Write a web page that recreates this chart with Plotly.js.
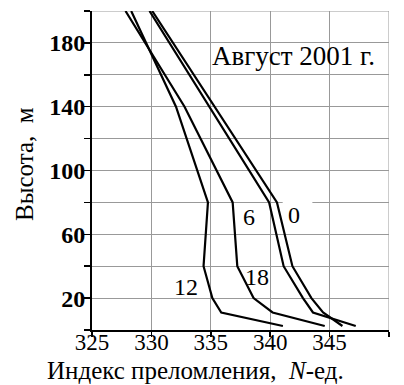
<!DOCTYPE html>
<html>
<head>
<meta charset="utf-8">
<script src="https://cdn.plot.ly/plotly-3.0.1.min.js"></script>
<style>
html,body{margin:0;padding:0;background:#fff;}
#chart{width:404px;height:385px;}
</style>
</head>
<body>
<div id="chart"></div>
<script>
// Heights (m) of the profile vertices
const heights_12_18 = [200, 140, 80, 40, 20, 11, 2.5];
const heights_0_6 = [200, 80, 40, 20, 11, 2.5];
// Refractivity N-units for each hour of the day
const N_0h  = [330.07, 340.57, 341.87, 343.47, 344.45, 346.08];
const N_6h  = [329.84, 339.91, 341.13, 342.76, 343.60, 347.20];
const N_12h = [328.30, 332.07, 334.76, 334.39, 335.13, 335.88, 341.07];
const N_18h = [327.82, 332.79, 336.84, 337.23, 338.60, 340.20, 344.59];
// Curve labels (hour) and where they sit
const curveLabels = ['6', '0', '18', '12'];
const labelX = [338.18, 341.98, 338.88, 332.94];
const labelY = [70.8, 72.1, 33.0, 27.1];
// Axis ticks
const xTicks = [325, 330, 335, 340, 345, 350];
const yTicks = [0, 20, 40, 60, 80, 100, 120, 140, 160, 180, 200];
const yTickText = ['', '20', '', '60', '', '100', '', '140', '', '180', ''];
// Texts
const chartNote = 'Август 2001 г.';
const xTitle = 'Индекс преломления,  <i>N</i>-ед.';
const yTitle = 'Высота,  м';

const lineStyle = {color: '#000', width: 2.2};
const traces = [
  {x: N_0h, y: heights_0_6, name: '0'},
  {x: N_6h, y: heights_0_6, name: '6'},
  {x: N_12h, y: heights_12_18, name: '12'},
  {x: N_18h, y: heights_12_18, name: '18'}
].map(t => Object.assign(t, {type: 'scatter', mode: 'lines', line: lineStyle, hoverinfo: 'skip'}));

const serif = '"Liberation Serif", serif';
const annotations = curveLabels.map((t, i) => ({
  x: labelX[i], y: labelY[i], xref: 'x', yref: 'y', text: t, showarrow: false,
  xanchor: 'center', yanchor: 'middle',
  font: {family: serif, size: 24, color: '#000'}
}));
annotations.push({
  x: 341.98, y: 171.8, xref: 'x', yref: 'y', text: chartNote, showarrow: false,
  xanchor: 'center', yanchor: 'middle',
  font: {family: serif, size: 27, color: '#000'}
});
const M = {l: 92, r: 15, t: 11, b: 55};
const W = 404, H = 385;
const px2x = p => (p - M.l) / (W - M.l - M.r);
const px2y = p => 1 - (p - M.t) / (H - M.t - M.b);
annotations.push({
  x: px2x(195), y: px2y(370), xref: 'paper', yref: 'paper', text: xTitle, showarrow: false,
  xanchor: 'center', yanchor: 'middle',
  font: {family: serif, size: 25, color: '#000'}
});
annotations.push({
  x: px2x(25), y: px2y(164), xref: 'paper', yref: 'paper', text: yTitle, showarrow: false,
  xanchor: 'center', yanchor: 'middle',
  textangle: -90, font: {family: serif, size: 25, color: '#000'}
});

const gridColor = '#999';
const shapes = [
  // grid lines on the top and right edges of the frame
  {type: 'line', xref: 'paper', yref: 'y', x0: 0, x1: 1, y0: 200, y1: 200, line: {color: gridColor, width: 1}, layer: 'between'},
  {type: 'line', xref: 'x', yref: 'paper', x0: 350, x1: 350, y0: 0, y1: 1, line: {color: gridColor, width: 1}, layer: 'between'},
  // white patch behind the "0" label that interrupts the 80 m grid line
  {type: 'rect', xref: 'x', yref: 'y', x0: 341.05, x1: 343.55, y0: 66, y1: 84, fillcolor: '#fff', line: {width: 0}, layer: 'between'}
];

const layout = {
  width: W, height: H,
  margin: M,
  paper_bgcolor: '#fff', plot_bgcolor: '#fff',
  showlegend: false,
  xaxis: {
    range: [325, 350], tickvals: xTicks, ticktext: xTicks.map(String),
    showline: true, linecolor: '#000', linewidth: 2,
    ticks: 'outside', ticklen: 5, tickwidth: 1.5, tickcolor: '#000',
    ticklabelstandoff: -15,
    showgrid: true, gridcolor: gridColor, gridwidth: 1, zeroline: false,
    tickfont: {family: serif, size: 23, color: '#000'}
  },
  yaxis: {
    range: [0, 200], tickvals: yTicks, ticktext: yTickText,
    showline: true, linecolor: '#000', linewidth: 2,
    ticks: 'outside', ticklen: 6, tickwidth: 1.5, tickcolor: '#000',
    ticklabelstandoff: -6,
    showgrid: true, gridcolor: gridColor, gridwidth: 1, zeroline: false,
    tickfont: {family: serif, size: 24, color: '#000', weight: 'bold'}
  },
  shapes: shapes,
  annotations: annotations
};

Plotly.newPlot('chart', traces, layout, {staticPlot: true, displayModeBar: false});
</script>
</body>
</html>
